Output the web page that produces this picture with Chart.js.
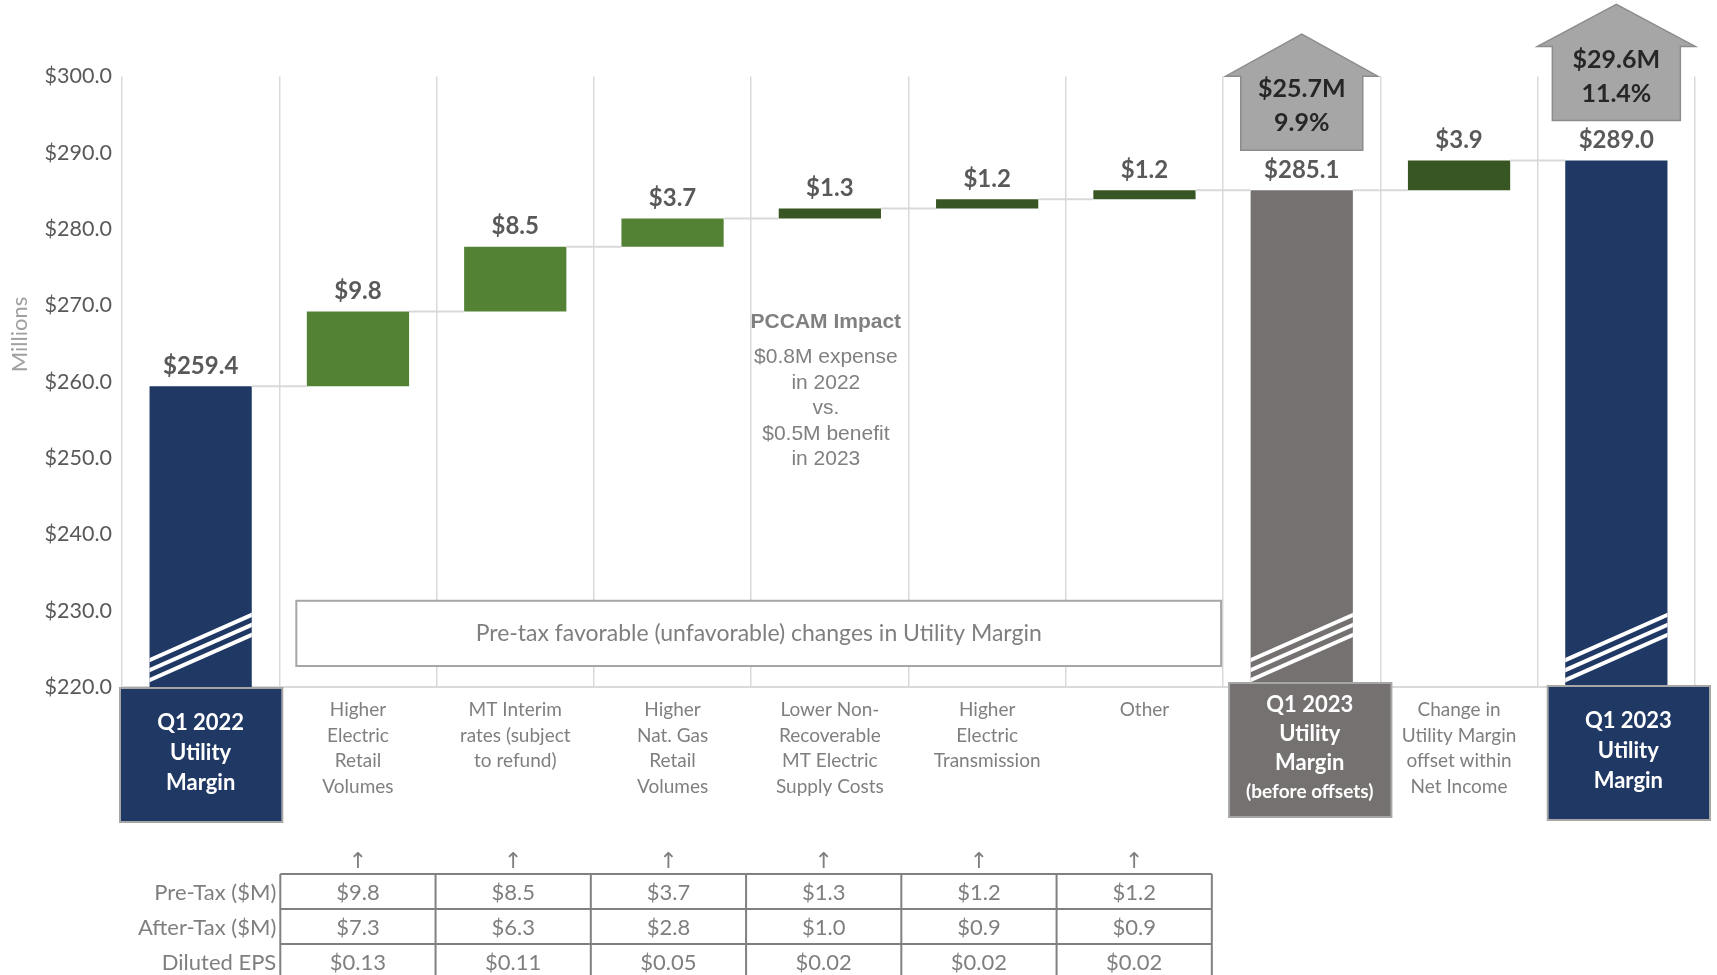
<!DOCTYPE html>
<html>
<head>
<meta charset="utf-8">
<script src="https://cdn.jsdelivr.net/npm/chart.js@4.4.0/dist/chart.umd.min.js"></script>
<style>
  html, body { margin: 0; padding: 0; background: #fff; }
  #wrap { width: 1717px; height: 975px; }
</style>
</head>
<body>
<div id="wrap"><canvas id="chart"></canvas></div>
<script>
// categories (multi-line labels)
const categories = [
  ['Q1 2022', 'Utility', 'Margin'],
  ['Higher', 'Electric', 'Retail', 'Volumes'],
  ['MT Interim', 'rates (subject', 'to refund)'],
  ['Higher', 'Nat. Gas', 'Retail', 'Volumes'],
  ['Lower Non-', 'Recoverable', 'MT Electric', 'Supply Costs'],
  ['Higher', 'Electric', 'Transmission'],
  ['Other'],
  ['Q1 2023', 'Utility', 'Margin', '(before offsets)'],
  ['Change in', 'Utility Margin', 'offset within', 'Net Income'],
  ['Q1 2023', 'Utility', 'Margin']
];

// waterfall bars ($M)
const barBottoms = [220, 259.4, 269.2, 277.7, 281.4, 282.7, 283.9, 220, 285.1, 220];
const barTops = [259.4, 269.2, 277.7, 281.4, 282.7, 283.9, 285.1, 285.1, 289.0, 289.0];
const valueLabels = ['$259.4', '$9.8', '$8.5', '$3.7', '$1.3', '$1.2', '$1.2', '$285.1', '$3.9', '$289.0'];
const totalIndexes = [0, 7, 9];

// y axis
const yMin = 220;
const yMax = 300;
const yStep = 10;
const yTitle = 'Millions';

// growth call-outs above the totals
const growthIndexes = [7, 9];
const growthLabels = [['$25.7M', '9.9%'], ['$29.6M', '11.4%']];

// notes
const noteTitle = 'PCCAM Impact';
const noteLines = ['$0.8M expense', 'in 2022', 'vs.', '$0.5M benefit', 'in 2023'];
const boxNote = 'Pre-tax favorable (unfavorable) changes in Utility Margin';

// table under the changes
const rowLabels = ['Pre-Tax ($M)', 'After-Tax ($M)', 'Diluted EPS'];
const preTax = [9.8, 8.5, 3.7, 1.3, 1.2, 1.2];
const afterTax = [7.3, 6.3, 2.8, 1.0, 0.9, 0.9];
const dilutedEps = [0.13, 0.11, 0.05, 0.02, 0.02, 0.02];

const NAVY = '#203864';
const GREEN = '#548235';
const DARK_GREEN = '#375623';
const GREY_BAR = '#767171';
const barColors = [NAVY, GREEN, GREEN, GREEN, DARK_GREEN, DARK_GREEN, DARK_GREEN, GREY_BAR, DARK_GREEN, NAVY];

const FONT = 'Lato, "Open Sans", sans-serif';
const ARIAL = '"Liberation Sans", Arial, sans-serif';

// label boxes under the totals sit a little off the category centre
const boxShift = { 0: [0, 1], 7: [8, -4], 9: [12, -1] };

const extras = {
  id: 'extras',
  afterDatasetsDraw(chart) {
    const ctx = chart.ctx;
    const xs = chart.scales.x;
    const ys = chart.scales.y;
    const bars = chart.getDatasetMeta(0).data;
    const n = categories.length;
    const catW = xs.width / n;
    const bottom = chart.chartArea.bottom;

    ctx.save();

    // connector lines
    ctx.strokeStyle = '#d9d9d9';
    ctx.lineWidth = 2;
    for (let i = 0; i < n - 1; i++) {
      const y = ys.getPixelForValue(barTops[i]);
      ctx.beginPath();
      ctx.moveTo(bars[i].x + bars[i].width / 2, y);
      ctx.lineTo(bars[i + 1].x - bars[i + 1].width / 2, y);
      ctx.stroke();
    }

    // axis break stripes on totals
    totalIndexes.forEach(i => {
      const b = bars[i];
      const l = b.x - b.width / 2, r = b.x + b.width / 2;
      const base = Math.max(b.base, b.y);
      ctx.save();
      ctx.beginPath();
      ctx.rect(l, Math.min(b.base, b.y), b.width, Math.abs(b.base - b.y));
      ctx.clip();
      ctx.strokeStyle = '#fff';
      ctx.lineWidth = 4;
      for (let k = 0; k < 3; k++) {
        const y0 = base - 7 - k * 10;
        ctx.beginPath();
        ctx.moveTo(l - 2, y0 + 1);
        ctx.lineTo(r + 2, y0 - 46);
        ctx.stroke();
      }
      ctx.restore();
    });

    // value labels
    ctx.fillStyle = '#595959';
    ctx.font = 'bold 24px ' + FONT;
    ctx.textAlign = 'center';
    ctx.textBaseline = 'middle';
    bars.forEach((b, i) => {
      ctx.fillText(valueLabels[i], b.x, Math.min(b.y, b.base) - 20);
    });

    // growth arrows
    growthIndexes.forEach((idx, j) => {
      const b = bars[idx];
      const cx = b.x;
      const boxBottom = Math.min(b.y, b.base) - 40;
      const boxTop = boxBottom - 74;
      const tip = boxTop - 42;
      const bw = 61 + j * 3, hw = 76 + j * 3;
      ctx.beginPath();
      ctx.moveTo(cx - bw, boxBottom);
      ctx.lineTo(cx - bw, boxTop);
      ctx.lineTo(cx - hw, boxTop);
      ctx.lineTo(cx, tip);
      ctx.lineTo(cx + hw, boxTop);
      ctx.lineTo(cx + bw, boxTop);
      ctx.lineTo(cx + bw, boxBottom);
      ctx.closePath();
      ctx.fillStyle = '#a6a6a6';
      ctx.fill();
      ctx.strokeStyle = '#8c8c8c';
      ctx.lineWidth = 1.5;
      ctx.stroke();
      ctx.fillStyle = '#262626';
      ctx.font = 'bold 25px ' + FONT;
      ctx.fillText(growthLabels[j][0], cx, boxTop + 13);
      ctx.fillText(growthLabels[j][1], cx, boxTop + 47);
    });

    // PCCAM note
    const nx = xs.getPixelForValue(4) - 4;
    const ny = ys.getPixelForValue(267.8);
    ctx.fillStyle = '#808080';
    ctx.font = 'bold 21px ' + ARIAL;
    ctx.fillText(noteTitle, nx, ny);
    ctx.font = '21px ' + ARIAL;
    noteLines.forEach((t, k) => ctx.fillText(t, nx, ny + 35 + k * 25.5));

    // boxed note
    const bl = xs.getPixelForValue(1) - catW / 2 + 17;
    const br = xs.getPixelForValue(7) - catW / 2 - 2;
    const bt = ys.getPixelForValue(231.3);
    const bb = ys.getPixelForValue(222.75);
    ctx.fillStyle = '#fff';
    ctx.fillRect(bl, bt, br - bl, bb - bt);
    ctx.strokeStyle = '#a6a6a6';
    ctx.lineWidth = 2;
    ctx.strokeRect(bl, bt, br - bl, bb - bt);
    ctx.fillStyle = '#7f7f7f';
    ctx.font = '23px ' + FONT;
    ctx.fillText(boxNote, (bl + br) / 2, (bt + bb) / 2);

    // y axis title
    ctx.save();
    ctx.translate(20, ys.getPixelForValue(266.2));
    ctx.rotate(-Math.PI / 2);
    ctx.fillStyle = '#a0a0a0';
    ctx.font = '22px ' + FONT;
    ctx.fillText(yTitle, 0, 0);
    ctx.restore();

    // category labels
    categories.forEach((lines, i) => {
      const cx = xs.getPixelForValue(i);
      if (totalIndexes.includes(i)) {
        const [dx, dy] = boxShift[i];
        const bx = cx + dx;
        const top = bottom + dy;
        const h = 134;
        ctx.fillStyle = barColors[i];
        ctx.fillRect(bx - catW / 2 - 2, top, catW + 5, h);
        ctx.strokeStyle = '#a6a6a6';
        ctx.lineWidth = 2;
        ctx.strokeRect(bx - catW / 2 - 2, top, catW + 5, h);
        ctx.fillStyle = '#fff';
        const gap = lines.length > 3 ? 29 : 30;
        const y0 = top + h / 2 - (lines.length - 1) * gap / 2 - 2;
        lines.forEach((t, k) => {
          ctx.font = (t.startsWith('(') ? 'bold 19px ' : 'bold 22px ') + FONT;
          ctx.fillText(t, bx, y0 + k * gap);
        });
      } else {
        ctx.fillStyle = '#7f7f7f';
        ctx.font = '19px ' + FONT;
        lines.forEach((t, k) => ctx.fillText(t, cx, bottom + 23 + k * 25.5));
      }
    });

    // table
    const colW = catW * 0.987;
    const tl = xs.getPixelForValue(1) - catW / 2 + 1;
    const tt = bottom + 187;
    const rh = 35;
    const rows = [
      preTax.map(v => '$' + v.toFixed(1)),
      afterTax.map(v => '$' + v.toFixed(1)),
      dilutedEps.map(v => '$' + v.toFixed(2))
    ];
    ctx.fillStyle = '#7f7f7f';
    ctx.font = '22px "DejaVu Sans", sans-serif';
    preTax.forEach((v, k) => ctx.fillText('\u2191', tl + colW * (k + 0.5), tt - 12));
    ctx.strokeStyle = '#808080';
    ctx.lineWidth = 2;
    for (let r = 0; r <= rows.length; r++) {
      ctx.beginPath();
      ctx.moveTo(tl, tt + r * rh);
      ctx.lineTo(tl + colW * preTax.length, tt + r * rh);
      ctx.stroke();
    }
    for (let c = 0; c <= preTax.length; c++) {
      ctx.beginPath();
      ctx.moveTo(tl + c * colW, tt);
      ctx.lineTo(tl + c * colW, tt + rows.length * rh);
      ctx.stroke();
    }
    ctx.font = '22px ' + FONT;
    rows.forEach((row, r) => {
      const y = tt + r * rh + rh / 2 + 1;
      ctx.textAlign = 'right';
      ctx.fillText(rowLabels[r], tl - 4, y);
      ctx.textAlign = 'center';
      row.forEach((t, c) => ctx.fillText(t, tl + colW * (c + 0.5), y));
    });

    ctx.restore();
  }
};

new Chart(document.getElementById('chart'), {
  type: 'bar',
  data: {
    labels: categories,
    datasets: [{
      data: barBottoms.map((b, i) => [b, barTops[i]]),
      backgroundColor: barColors,
      borderWidth: 0,
      barPercentage: 0.65,
      categoryPercentage: 1.0
    }]
  },
  options: {
    responsive: true,
    maintainAspectRatio: false,
    animation: false,
    layout: { padding: { top: 76.5, right: 22, left: 0, bottom: 0 } },
    plugins: {
      legend: { display: false },
      tooltip: { enabled: false }
    },
    scales: {
      x: {
        grid: { color: '#d9d9d9', lineWidth: 1.5, drawTicks: false, offset: true },
        border: { color: '#d9d9d9', width: 2 },
        ticks: { display: false },
        afterFit: scale => { scale.height = 288; }
      },
      y: {
        min: yMin,
        max: yMax,
        grid: { display: false, drawTicks: false },
        border: { display: false },
        ticks: {
          stepSize: yStep,
          padding: 10,
          color: '#595959',
          font: { family: FONT, size: 21.5 },
          callback: v => '$' + v.toFixed(1)
        },
        afterFit: scale => { scale.width = 122; }
      }
    }
  },
  plugins: [extras]
});
</script>
</body>
</html>
